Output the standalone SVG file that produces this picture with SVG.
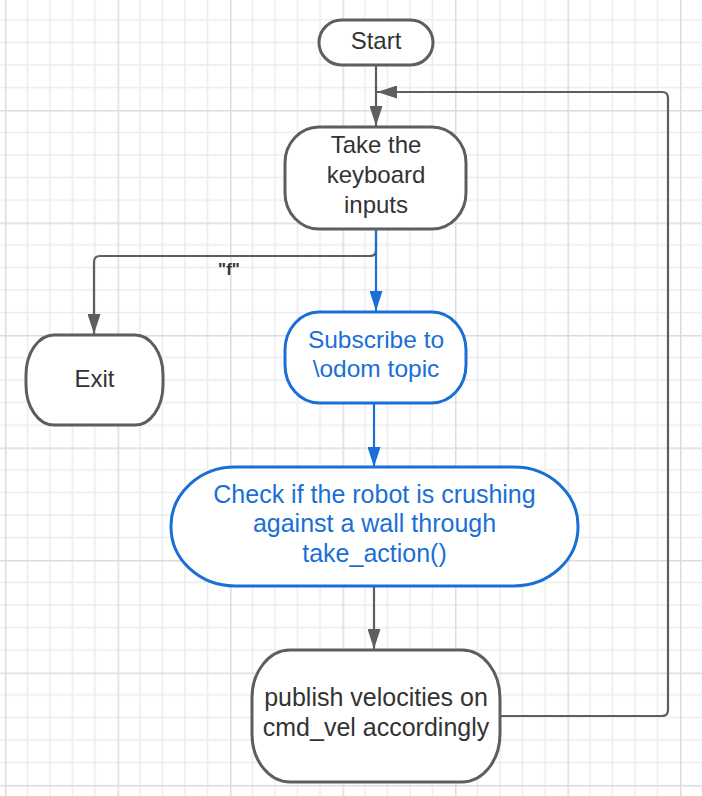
<svg xmlns="http://www.w3.org/2000/svg" width="702" height="796" viewBox="0 0 702 796">
<defs>
<pattern id="grid" patternUnits="userSpaceOnUse" x="5" y="-2.5" width="112.5" height="112.5">
<g stroke="#ececec" stroke-width="1.5">
<line x1="22.5" y1="0" x2="22.5" y2="112.5"/><line x1="45" y1="0" x2="45" y2="112.5"/><line x1="67.5" y1="0" x2="67.5" y2="112.5"/><line x1="90" y1="0" x2="90" y2="112.5"/>
<line x1="0" y1="22.5" x2="112.5" y2="22.5"/><line x1="0" y1="45" x2="112.5" y2="45"/><line x1="0" y1="67.5" x2="112.5" y2="67.5"/><line x1="0" y1="90" x2="112.5" y2="90"/>
</g>
<g stroke="#dcdcdc" stroke-width="1.5">
<line x1="0.75" y1="0" x2="0.75" y2="112.5"/><line x1="0" y1="0.75" x2="112.5" y2="0.75"/>
</g>
</pattern>
<marker id="ag" viewBox="0 0 20 13" refX="20" refY="6.5" markerWidth="20" markerHeight="13" markerUnits="userSpaceOnUse" orient="auto"><path d="M0,0 L20,6.5 L0,13 Z" fill="#5e5e5e"/></marker>
<marker id="ab" viewBox="0 0 20 13" refX="20" refY="6.5" markerWidth="20" markerHeight="13" markerUnits="userSpaceOnUse" orient="auto"><path d="M0,0 L20,6.5 L0,13 Z" fill="#1a6fd6"/></marker>
</defs>
<style>
.ng{fill:#fff;stroke:#5e5e5e;stroke-width:3}
.nb{fill:#fff;stroke:#1a6fd6;stroke-width:3}
.tg{font-family:"Liberation Sans",Arial,sans-serif;font-size:24px;fill:#333;text-anchor:middle}
.tb{font-family:"Liberation Sans",Arial,sans-serif;font-size:24.5px;fill:#1a6fd6;text-anchor:middle}
.big{font-size:25px}
.cg{fill:none;stroke:#5e5e5e;stroke-width:2.2}
.cb{fill:none;stroke:#1a6fd6;stroke-width:2.2}
.lbl{font-family:"Liberation Sans",Arial,sans-serif;font-size:17px;font-weight:bold;fill:#333;text-anchor:middle}
</style>
<rect width="702" height="796" fill="#fff"/>
<rect width="702" height="796" fill="url(#grid)"/>
<g id="connectors">
<line class="cg" x1="376" y1="65" x2="376" y2="126" marker-end="url(#ag)"/>
<path class="cg" d="M500,716 H662 Q668,716 668,710 V98 Q668,92 662,92 H377" marker-end="url(#ag)"/>
<path class="cg" d="M376,229 V250 Q376,256 370,256 H100 Q94,256 94,262 V334" marker-end="url(#ag)"/>
<text class="lbl" x="229" y="275">"f"</text>
<line class="cb" x1="376" y1="229" x2="376" y2="311" marker-end="url(#ab)"/>
<line class="cb" x1="374" y1="403" x2="374" y2="467" marker-end="url(#ab)"/>
<line class="cg" x1="374" y1="586" x2="374" y2="649" marker-end="url(#ag)"/>
</g>
<g id="start"><rect class="ng" x="319" y="20" width="114" height="45" rx="22.5"/><text class="tg" x="376" y="49">Start</text></g>
<g id="keyboard"><rect class="ng" x="285" y="127" width="181" height="102" rx="34" ry="36"/><text class="tg" x="376" y="153">Take the</text><text class="tg" x="376" y="183">keyboard</text><text class="tg" x="376" y="213">inputs</text></g>
<g id="exit"><rect class="ng" x="26" y="335" width="137" height="90" rx="28" ry="40"/><text class="tg" x="94.5" y="387">Exit</text></g>
<g id="subscribe"><rect class="nb" x="285" y="312" width="181" height="91" rx="34" ry="38"/><text class="tb" x="376" y="348">Subscribe to</text><text class="tb" x="376" y="377">\odom topic</text></g>
<g id="check"><rect class="nb" x="171" y="467" width="407" height="119" rx="64" ry="59"/><text class="tb big" x="374.5" y="503">Check if the robot is crushing</text><text class="tb big" x="374.5" y="532">against a wall through</text><text class="tb big" x="374.5" y="562">take_action()</text></g>
<g id="publish"><rect class="ng" x="252" y="650" width="248" height="132" rx="38" ry="48"/><text class="tg big" x="376" y="706">publish velocities on</text><text class="tg big" x="376" y="736">cmd_vel accordingly</text></g>
</svg>
